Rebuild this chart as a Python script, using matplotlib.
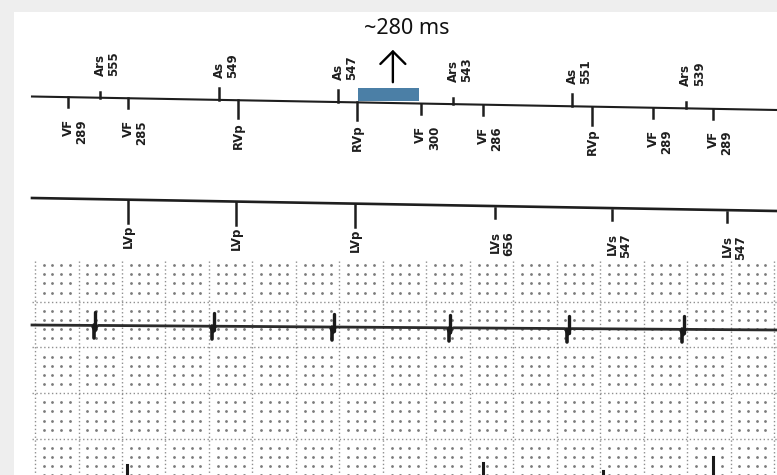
import numpy as np
import matplotlib
matplotlib.use("Agg")
import matplotlib.pyplot as plt
from matplotlib.patches import Rectangle

# paper speed of the strip: about 4.6 ms per pixel (25 mm/s)
MS_PER_PX = 4.6
T_END = 3427

# atrial channel, marks above the top line (interval to previous A event, ms)
atrial_t = [313, 860, 1408, 1937, 2484, 3008]
atrial_kind = ["Ars", "As", "As", "Ars", "As", "Ars"]
atrial_ms = [555, 549, 547, 543, 551, 539]

# RV channel, marks below the top line
rv_t = [166, 442, 948, 1495, 1789, 2075, 2576, 2857, 3133]
rv_kind = ["VF", "VF", "RVp", "RVp", "VF", "VF", "RVp", "VF", "VF"]
rv_ms = [289, 285, None, None, 300, 286, None, 289, 289]

# LV channel, marks below the second line
lv_t = [442, 938, 1486, 2130, 2668, 3197]
lv_kind = ["LVp", "LVp", "LVp", "LVs", "LVs", "LVs"]
lv_ms = [None, None, None, 656, 547, 547]

# surface ECG pacing spikes
spike_t = [290, 833, 1385, 1923, 2466, 2995]
spike_dx = [-14, -5, -1, 3, 8, 16]
spike_dy = [0, 4, 6, 5, 1, 0]
spike_up = -13
spike_down = 13

# second ECG lead, only the tops of the spikes are visible at the bottom
low_t = [437, 2075, 2627, 3133]
low_top = [465, 463, 471, 457]

# highlighted window
win_start = 1500
win_len = 280
win_label = "~280 ms"

# y of the strips at left / right end (they are slightly tilted on the scan)
top_line = (96.5, 110)
lv_line = (198, 211)
ecg_line = (325, 330)


def line_y(t, ends):
    return np.interp(t, [0, T_END], ends)


fig = plt.figure(figsize=(7.77, 4.75), dpi=100)
fig.patch.set_facecolor("#eeeeee")
fig.add_artist(Rectangle((14 / 777, 0), 1, 1 - 12 / 475, transform=fig.transFigure,
                         facecolor="white", edgecolor="none", zorder=-1))
ax = fig.add_axes([0, 0, 1, 1])
ax.set_facecolor("none")
ax.set_xlim(-32 * MS_PER_PX, 745 * MS_PER_PX)
ax.set_ylim(475, 0)
ax.axis("off")

ink = "#1e1e1e"
lab = dict(rotation=90, ha="center", fontsize=8.5, fontweight="bold",
           color=ink, family="DejaVu Sans", textcoords="offset points")


def label(text, t, y, va):
    parts = text.split("\n")
    for i, p in enumerate(parts):
        ax.annotate(p, (t, y), xytext=(i * 10, 0), va=va, **lab)


# ---- top line: atrial above, RV below
ax.plot([0, T_END], top_line, color=ink, lw=1.5)
for t, k, v in zip(atrial_t, atrial_kind, atrial_ms):
    y0 = line_y(t, top_line)
    h = 12 if k == "As" else 6
    ax.plot([t, t], [y0, y0 - h], color=ink, lw=1.8)
    label(f"{k}\n{v}", t, y0 - 22, "bottom")
for t, k, v in zip(rv_t, rv_kind, rv_ms):
    y0 = line_y(t, top_line)
    h = 18 if k == "RVp" else 10
    ax.plot([t, t], [y0, y0 + h], color=ink, lw=1.8)
    txt = k if v is None else f"{k}\n{v}"
    label(txt, t, y0 + 22, "top")

# ---- LV line
ax.plot([0, T_END], lv_line, color=ink, lw=1.9)
for t, k, v in zip(lv_t, lv_kind, lv_ms):
    y0 = line_y(t, lv_line)
    if k == "LVp":
        ax.plot([t, t], [y0, y0 + 23], color=ink, lw=1.8)
    else:
        ax.plot([t, t], [y0 + 2, y0 + 12], color=ink, lw=1.8)
    txt = k if v is None else f"{k}\n{v}"
    label(txt, t, y0 + 25, "top")

# ---- highlighted window with arrow
y_win = line_y(win_start, top_line) - 1
ax.add_patch(Rectangle((win_start, y_win), win_len, -13, facecolor="#4b7fa6",
                       edgecolor="none", zorder=3))
mid = win_start + win_len / 2
ax.annotate("", xy=(mid + 20, 47), xytext=(mid + 20, 85),
            arrowprops=dict(arrowstyle="->, head_length=0.45, head_width=0.45",
                            mutation_scale=20, lw=1.7, color="black"))
ax.text(mid + 85, 28, win_label, ha="center", va="center", fontsize=15.5,
        family="Noto Sans", color="#111111")

# ---- ECG paper grid
grid_top = 261
gx_major = np.arange(14, T_END, 200)
gy_major = np.arange(301.7, 476, 45.7)
ax.vlines(gx_major, grid_top, 475, colors="#8f8f8f", lw=1.0, linestyles=(0, (1, 1.8)))
ax.hlines(gy_major, 0, T_END, colors="#8f8f8f", lw=1.0, linestyles=(0, (1, 1.8)))
mx = np.array([x for x in np.arange(14 - 200, T_END, 40) if (x - 14) % 200 and x > 0])
my = np.array([y for y in np.arange(256, 476, 9.14) if y > grid_top + 2])
my = np.array([y for y in my if np.min(np.abs(gy_major - y)) > 2])
MX, MY = np.meshgrid(mx, my)
ax.scatter(MX.ravel(), MY.ravel(), s=4, color="#7a7a7a", linewidths=0)

# ---- ECG trace
xs, ys = [0], [line_y(0, ecg_line)]
for t in spike_t:
    b = line_y(t, ecg_line)
    for dx, dy in zip(spike_dx, spike_dy):
        xs.append(t + dx)
        ys.append(b + dy)
xs.append(T_END)
ys.append(line_y(T_END, ecg_line))
ax.plot(xs, ys, color="#2a2a2a", lw=2.0, solid_joinstyle="round")
for t in spike_t:
    b = line_y(t, ecg_line)
    ax.plot([t + 2, t + 2], [b + spike_up, b + 4], color="#1a1a1a", lw=2.4,
            solid_capstyle="round")
    ax.plot([t - 3, t - 3], [b, b + spike_down], color="#1a1a1a", lw=2.6,
            solid_capstyle="round")

for t, top in zip(low_t, low_top):
    ax.plot([t, t], [top, 480], color="#1a1a1a", lw=2.2)

fig.savefig("out.png", dpi=100, facecolor=fig.get_facecolor())
